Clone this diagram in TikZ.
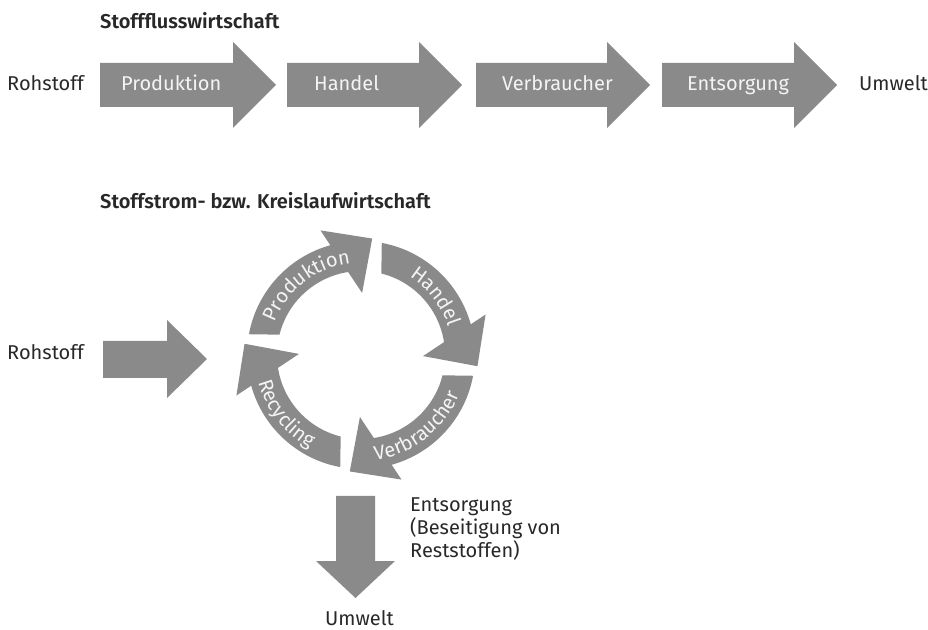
\documentclass[tikz,border=0pt]{standalone}
\usepackage{fontspec}
\setmainfont{Fira Sans}[BoldFont={* SemiBold}]
\usetikzlibrary{decorations.text}
\definecolor{ArrowGray}{RGB}{138,138,138}
\definecolor{TextGray}{RGB}{40,40,40}
\definecolor{LabelWhite}{RGB}{244,244,244}
\newcommand{\RingFont}{\fontsize{20}{23}\selectfont\color{LabelWhite}}

\begin{document}
\begin{tikzpicture}[x = 1pt, y = 1pt]
\tikzstyle{ArrowStyle}=[
fill = ArrowGray,
draw = none]
\tikzstyle{TextStyle}=[
text = TextGray,
inner sep = 0pt,
font = \fontsize{20}{23}\selectfont]
\tikzstyle{InArrowStyle}=[
text = LabelWhite,
inner sep = 0pt,
font = \fontsize{20}{23}\selectfont]
\useasboundingbox (0,0) rectangle (928,629);
\node[TextStyle, anchor = base west] (titleA) at (100,600) {\textbf{Stoffflusswirtschaft}};
\node[TextStyle, anchor = base west] (rohstoffA) at (7,538) {Rohstoff};
\node[TextStyle, anchor = base west] (umweltA) at (859,538) {Umwelt};
\fill[ArrowStyle] (100,522) -- (233,522) -- (233,501) -- (276,544) -- (233,587) -- (233,566) -- (100,566) -- cycle;
\fill[ArrowStyle] (287,522) -- (419,522) -- (419,501) -- (462,544) -- (419,587) -- (419,566) -- (287,566) -- cycle;
\fill[ArrowStyle] (476,522) -- (607,522) -- (607,501) -- (650,544) -- (607,587) -- (607,566) -- (476,566) -- cycle;
\fill[ArrowStyle] (662,522) -- (794,522) -- (794,501) -- (837,544) -- (794,587) -- (794,566) -- (662,566) -- cycle;
\node[InArrowStyle, anchor = base west] (produktionA) at (121,538) {Produktion};
\node[InArrowStyle, anchor = base west] (handelA) at (314,538) {Handel};
\node[InArrowStyle, anchor = base west] (verbraucherA) at (502,538) {Verbraucher};
\node[InArrowStyle, anchor = base west] (entsorgungA) at (687,538) {Entsorgung};
\node[TextStyle, anchor = base west] (titleB) at (100,420) {\textbf{Stoffstrom- bzw. Kreislaufwirtschaft}};
\node[TextStyle, anchor = base west] (rohstoffB) at (7,269) {Rohstoff};
\fill[ArrowStyle] (103,251) -- (167,251) -- (167,231) -- (207,270) -- (167,309) -- (167,288) -- (103,288) -- cycle;
\begin{scope}[shift = {(361,274)}]
\begin{scope}[rotate = 0]
\fill[ArrowStyle] (169.5:114) arc[start angle = 169.5, end angle = 105.6, radius = 114] -- (108:131) -- (84.5:117) -- (89:62) -- (98.8:84) arc[start angle = 98.8, end angle = 166, radius = 84] -- cycle;
\path[decorate, decoration = {text along path, text align = center, text = {|\RingFont|Produktion}}] (168:92) arc[start angle = 168, end angle = 88, radius = 92];
\end{scope}
\begin{scope}[rotate = -90]
\fill[ArrowStyle] (169.5:114) arc[start angle = 169.5, end angle = 105.6, radius = 114] -- (108:131) -- (84.5:117) -- (89:62) -- (98.8:84) arc[start angle = 98.8, end angle = 166, radius = 84] -- cycle;
\path[decorate, decoration = {text along path, text align = center, text = {|\RingFont|Handel}}] (168:92) arc[start angle = 168, end angle = 88, radius = 92];
\end{scope}
\begin{scope}[rotate = -180]
\fill[ArrowStyle] (169.5:114) arc[start angle = 169.5, end angle = 105.6, radius = 114] -- (108:131) -- (84.5:117) -- (89:62) -- (98.8:84) arc[start angle = 98.8, end angle = 166, radius = 84] -- cycle;
\path[decorate, decoration = {text along path, text align = center, text = {|\RingFont|Verbraucher}}] (88:106) arc[start angle = 88, end angle = 168, radius = 106];
\end{scope}
\begin{scope}[rotate = -270]
\fill[ArrowStyle] (169.5:114) arc[start angle = 169.5, end angle = 105.6, radius = 114] -- (108:131) -- (84.5:117) -- (89:62) -- (98.8:84) arc[start angle = 98.8, end angle = 166, radius = 84] -- cycle;
\path[decorate, decoration = {text along path, text align = center, text = {|\RingFont|Recycling}}] (88:106) arc[start angle = 88, end angle = 168, radius = 106];
\end{scope}
\end{scope}
\fill[ArrowStyle] (336,133) -- (336,68) -- (316,68) -- (355.5,31) -- (395,68) -- (375,68) -- (375,133) -- cycle;
\node[TextStyle, anchor = north west, align = left] (entsorgungB) at (410,131) {Entsorgung\\(Beseitigung von\\Reststoffen)};
\node[TextStyle, anchor = base west] (umweltB) at (325,4) {Umwelt};
\end{tikzpicture}
\end{document}
